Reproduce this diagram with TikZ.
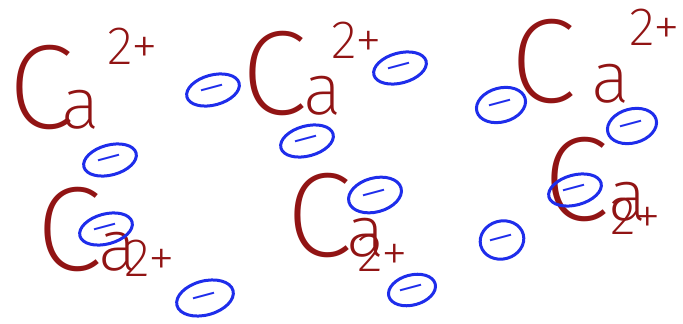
\documentclass[tikz,border=0pt]{standalone}
\usepackage{fontspec}
\setmainfont{Fira Sans ExtraLight}
\usetikzlibrary{shapes.geometric}
\definecolor{inkred}{RGB}{145,20,20}
\definecolor{inkblue}{RGB}{30,45,235}
% big C, small a, as written by hand
\newcommand{\calcium}[1]{{\fontsize{120}{120}\selectfont C}\kern#1pt{\fontsize{72}{72}\selectfont a}}
% minus centred on the node, without growing it
\newcommand{\minus}{\smash{\raisebox{-0.27em}{–}}}

\begin{document}
\begin{tikzpicture}[x=1pt, y=-1pt,
        ion/.style={inkred, anchor=base west, inner sep=0pt},
        charge/.style={inkred, inner sep=0pt, font=\fontsize{54}{54}\selectfont},
        electron/.style={ellipse, draw=inkblue, text=inkblue, line width=3pt,
            inner sep=0pt, minimum width=54pt, minimum height=30pt, rotate=15,
            font=\fontsize{50}{50}\selectfont\mdseries}]
    \useasboundingbox (0,0) rectangle (683,324);

    % left pair
    \node[ion] (ca1) at (8,128) {\calcium{-12}};
    \node[charge] (q1) at (133,46) {2+};
    \node[ion] (ca2) at (36,270) {\calcium{-3}};
    \node[charge] (q2) at (150,258) {2+};

    % middle pair
    \node[ion] (ca3) at (241,114) {\calcium{-3}};
    \node[charge] (q3) at (357,40) {2+};
    \node[ion] (ca4) at (286,256) {\calcium{-5}};
    \node[charge] (q4) at (383,253) {2+};

    % right pair
    \node[ion] (ca5) at (510,102) {\calcium{16}};
    \node[charge] (q5) at (655,27) {2+};
    \node[ion] (ca6) at (543,220) {\calcium{0}};
    \node[charge] (q6) at (636,216) {2+};

    % electrons
    \node[electron] (e1) at (213,90) {\minus};
    \node[electron] (e2) at (110,160) {\minus};
    \node[electron] (e3) at (106,229) {\minus};
    \node[electron, minimum width=58pt, minimum height=34pt] (e4) at (205,298) {\minus};
    \node[electron] (e5) at (400,68) {\minus};
    \node[electron] (e6) at (307,141) {\minus};
    \node[electron, minimum height=34pt] (e7) at (375,195) {\minus};
    \node[electron, minimum width=48pt] (e8) at (412,290) {\minus};
    \node[electron, minimum width=50pt, minimum height=34pt] (e9) at (501,105) {\minus};
    \node[electron, minimum width=50pt, minimum height=34pt] (e10) at (632,126) {\minus};
    \node[electron] (e11) at (575,190) {\minus};
    \node[electron, minimum width=44pt, minimum height=38pt] (e12) at (502,240) {\minus};
\end{tikzpicture}
\end{document}
